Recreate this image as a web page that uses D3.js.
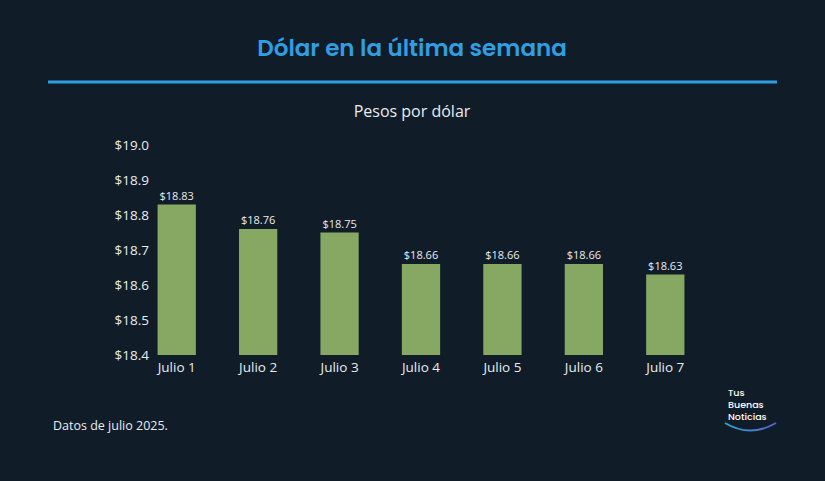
<!DOCTYPE html>
<html><head><meta charset="utf-8">
<script src="https://cdn.jsdelivr.net/npm/d3@7"></script>
<style>body{margin:0;background:#111c29;}</style></head>
<body><svg id="c" width="825" height="481"></svg>
<script>
const categories=["Julio 1","Julio 2","Julio 3","Julio 4","Julio 5","Julio 6","Julio 7"];
const values=[18.83,18.76,18.75,18.66,18.66,18.66,18.63];
const yTicks=[18.4,18.5,18.6,18.7,18.8,18.9,19.0];
const svg=d3.select("#c");
svg.append("rect").attr("width",825).attr("height",481).attr("fill","#111c29");
const F="Open Sans, sans-serif";
svg.append("text").attr("x",412).attr("y",56).attr("text-anchor","middle").attr("font-family","Poppins, Inter, sans-serif").attr("font-weight",600).attr("font-size",23).attr("fill","#2f9ee2").text("Dólar en la última semana");
svg.append("line").attr("x1",48).attr("x2",777).attr("y1",82).attr("y2",82).attr("stroke","#2f9ee2").attr("stroke-width",3);
svg.append("text").attr("x",412).attr("y",117).attr("text-anchor","middle").attr("font-family",F).attr("font-size",16).attr("fill","#e8ecef").text("Pesos por dólar");
const x=d3.scaleBand().domain(categories).range([136,706]).paddingInner(0.53).paddingOuter(0.265);
const y=d3.scaleLinear().domain([18.4,19.0]).range([355,145]);
const ya=svg.append("g").attr("transform","translate(149,0)").call(d3.axisLeft(y).tickValues(yTicks).tickSize(0).tickPadding(0).tickFormat(d=>"$"+d.toFixed(1)));
ya.select(".domain").remove();
ya.selectAll("text").attr("font-family",F).attr("font-size",13.5).attr("fill","#e8ecef");
const xa=svg.append("g").attr("transform","translate(0,355)").call(d3.axisBottom(x).tickSize(0).tickPadding(7));
xa.select(".domain").remove();
xa.selectAll("text").attr("font-family",F).attr("font-size",13.5).attr("fill","#e8ecef");
svg.selectAll(".bar").data(values).join("rect").attr("x",(d,i)=>x(categories[i])).attr("width",x.bandwidth()).attr("y",d=>y(d)).attr("height",d=>355-y(d)).attr("fill","#87a863");
svg.selectAll(".lab").data(values).join("text").attr("x",(d,i)=>x(categories[i])+x.bandwidth()/2).attr("y",d=>y(d)-5).attr("text-anchor","middle").attr("font-family",F).attr("font-size",11).attr("fill","#e8ecef").text(d=>"$"+d.toFixed(2));
svg.append("text").attr("x",53).attr("y",430).attr("font-family",F).attr("font-size",12.5).attr("fill","#e8ecef").text("Datos de julio 2025.");
const lg=svg.append("g").attr("font-family","Poppins, Inter, sans-serif").attr("font-size",9.5).attr("font-weight",500).attr("fill","#fff");
["Tus","Buenas","Noticias"].forEach((t,i)=>lg.append("text").attr("x",728).attr("y",396+i*12).text(t));
const grad=svg.append("defs").append("linearGradient").attr("id","g1");
grad.append("stop").attr("offset","0").attr("stop-color","#2aa7c9");
grad.append("stop").attr("offset","1").attr("stop-color","#5a5fd0");
svg.append("path").attr("d","M725,423 Q750,438 776,423").attr("fill","none").attr("stroke","url(#g1)").attr("stroke-width",2);
</script></body></html>
